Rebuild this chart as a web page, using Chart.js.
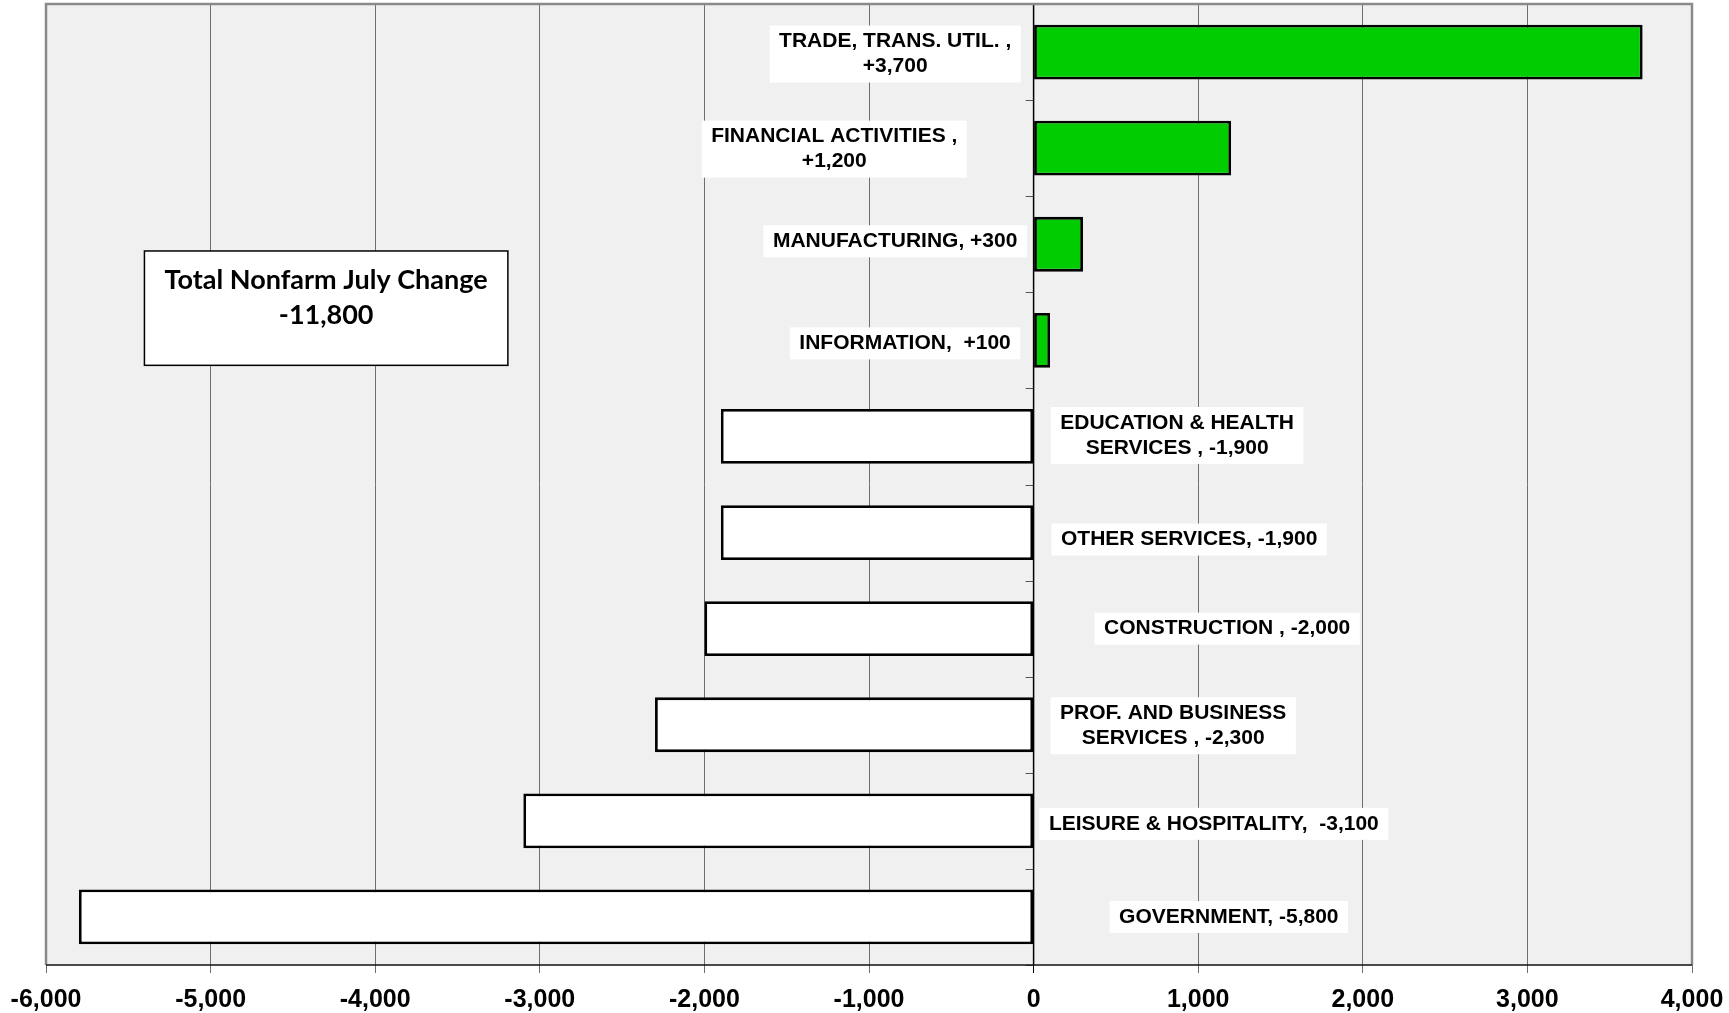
<!DOCTYPE html>
<html><head><meta charset="utf-8">
<script src="https://cdn.jsdelivr.net/npm/chart.js@4.4.1/dist/chart.umd.min.js"></script>
<style>html,body{margin:0;padding:0;background:#fff;} #wrap{width:1729px;height:1013px;position:relative;}</style>
</head><body><div id="wrap"><canvas id="c"></canvas></div>
<script>
// ---- data ----
const categories = ["TRADE, TRANS. UTIL.", "FINANCIAL ACTIVITIES", "MANUFACTURING", "INFORMATION",
  "EDUCATION & HEALTH SERVICES", "OTHER SERVICES", "CONSTRUCTION", "PROF. AND BUSINESS SERVICES",
  "LEISURE & HOSPITALITY", "GOVERNMENT"];
const changes = [3700, 1200, 300, 100, -1900, -1900, -2000, -2300, -3100, -5800];
const labelLines = [
  ["TRADE, TRANS. UTIL. ,", "+3,700"],
  ["FINANCIAL ACTIVITIES ,", "+1,200"],
  ["MANUFACTURING, +300"],
  ["INFORMATION,  +100"],
  ["EDUCATION & HEALTH", "SERVICES , -1,900"],
  ["OTHER SERVICES, -1,900"],
  ["CONSTRUCTION , -2,000"],
  ["PROF. AND BUSINESS", "SERVICES , -2,300"],
  ["LEISURE & HOSPITALITY,  -3,100"],
  ["GOVERNMENT, -5,800"]
];
const xMin = -6000, xMax = 4000, xStep = 1000;
const totalTitle = "Total Nonfarm July Change";
const totalValue = "-11,800";

// ---- annotation placement (data units on x, pixel nudges on y) ----
const labelAnchorX = [-841, -1211, -841, -781, 872, 945, 1176, 848, 1095, 1186];
const labelDy = [2, 1, -3, 3, -1, 7, 0, 1, 3, 0];
const totalBox = {x1: -5402, x2: -3194, y1: 2.07, y2: 3.26};

const fmt = v => (v < 0 ? "-" : "") + Math.abs(v).toLocaleString("en-US");

const deco = {
  id: "deco",
  beforeDraw(chart) {
    const {ctx, chartArea: a} = chart;
    ctx.save();
    ctx.fillStyle = "#f0f0f0";
    ctx.fillRect(a.left, a.top, a.right - a.left, a.bottom - a.top);
    ctx.restore();
  },
  afterDatasetsDraw(chart) {
    const {ctx, chartArea: a, scales: {x, y}} = chart;
    const x0 = x.getPixelForValue(0);
    ctx.save();
    ctx.strokeStyle = "#555"; ctx.lineWidth = 1;
    for (let i = 0; i <= categories.length; i++) {
      const py = Math.round(y.getPixelForValue(i - 0.5)) + 0.5;
      ctx.beginPath(); ctx.moveTo(x0 - 8, py); ctx.lineTo(x0, py); ctx.stroke();
    }
    ctx.strokeStyle = "#000"; ctx.lineWidth = 1.5;
    ctx.beginPath(); ctx.moveTo(x0, a.top); ctx.lineTo(x0, a.bottom); ctx.stroke();

    ctx.font = 'bold 21px "Liberation Sans", Arial, sans-serif';
    ctx.textAlign = "center"; ctx.textBaseline = "middle";
    labelLines.forEach((lines, i) => {
      const cx = x.getPixelForValue(labelAnchorX[i]);
      const cy = y.getPixelForValue(i) + labelDy[i];
      const w = Math.max(...lines.map(l => ctx.measureText(l).width)) + 19;
      const h = lines.length * 25 + 7;
      ctx.fillStyle = "#fff";
      ctx.fillRect(cx - w / 2, cy - h / 2, w, h);
      ctx.fillStyle = "#000";
      lines.forEach((l, k) => ctx.fillText(l, cx, cy + (k - (lines.length - 1) / 2) * 25));
    });
    ctx.restore();
  },
  afterDraw(chart) {
    const {ctx, chartArea: a, scales: {x, y}} = chart;
    ctx.save();
    ctx.strokeStyle = "#8a8a8a"; ctx.lineWidth = 2.5;
    ctx.beginPath();
    ctx.moveTo(a.left, a.bottom); ctx.lineTo(a.left, a.top); ctx.lineTo(a.right, a.top); ctx.lineTo(a.right, a.bottom);
    ctx.stroke();
    ctx.strokeStyle = "#111"; ctx.lineWidth = 1.5;
    ctx.beginPath(); ctx.moveTo(a.left, a.bottom); ctx.lineTo(a.right, a.bottom); ctx.stroke();

    // total box
    const bx1 = x.getPixelForValue(totalBox.x1), bx2 = x.getPixelForValue(totalBox.x2);
    const by1 = y.getPixelForValue(totalBox.y1), by2 = y.getPixelForValue(totalBox.y2);
    ctx.fillStyle = "#fff";
    ctx.fillRect(bx1, by1, bx2 - bx1, by2 - by1);
    ctx.strokeStyle = "#000"; ctx.lineWidth = 1.5;
    ctx.strokeRect(bx1, by1, bx2 - bx1, by2 - by1);
    ctx.fillStyle = "#000";
    ctx.font = 'bold 27px Lato, "Open Sans", sans-serif';
    ctx.textAlign = "center"; ctx.textBaseline = "middle";
    const cx = (bx1 + bx2) / 2;
    ctx.fillText(totalTitle, cx, by1 + 29);
    ctx.fillText(totalValue, cx, by1 + 64);
    ctx.restore();
  }
};

new Chart(document.getElementById("c"), {
  type: "bar",
  data: {
    labels: categories,
    datasets: [{
      data: changes,
      backgroundColor: changes.map(v => v >= 0 ? "#00cc00" : "#ffffff"),
      borderColor: "#000",
      borderWidth: 2.8,
      borderSkipped: false,
      categoryPercentage: 1.0,
      barPercentage: 0.57
    }]
  },
  options: {
    indexAxis: "y",
    responsive: true,
    maintainAspectRatio: false,
    animation: false,
    devicePixelRatio: 1,
    layout: {padding: {left: 46, right: 37, top: 4, bottom: 0}},
    plugins: {legend: {display: false}, tooltip: {enabled: false}},
    scales: {
      x: {
        type: "linear",
        min: xMin, max: xMax,
        afterFit(s) { s.height = 48; s.paddingLeft = 0; s.paddingRight = 0; },
        ticks: {
          stepSize: xStep,
          padding: 12,
          color: "#000",
          font: {family: '"Liberation Sans", Arial, sans-serif', size: 25, weight: "bold"},
          callback: v => fmt(v),
          maxRotation: 0, autoSkip: false
        },
        grid: {
          color: c => (c.tick && c.tick.value === 0) ? "#000" : "#6e6e6e",
          lineWidth: 1,
          tickLength: 8,
          drawTicks: true
        },
        border: {display: false}
      },
      y: {
        type: "category",
        display: false,
        offset: true
      }
    }
  },
  plugins: [deco]
});
</script>
</body></html>
